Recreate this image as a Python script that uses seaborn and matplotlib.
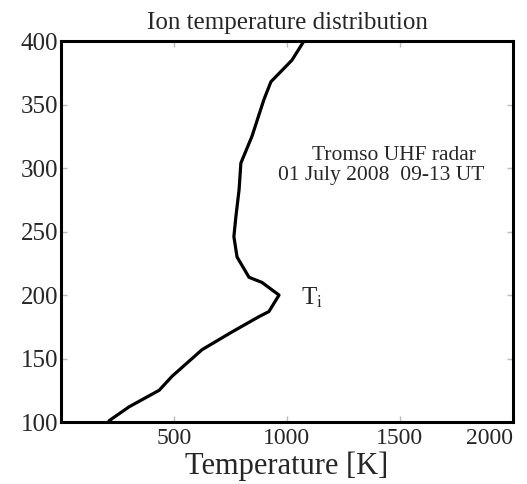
import matplotlib
matplotlib.use("Agg")
import matplotlib.pyplot as plt
import seaborn as sns
import pandas as pd

temperature = [212, 301, 434, 491, 624, 757, 876, 920, 965, 889, 832, 779, 765, 774, 788, 796, 845, 898, 929, 1022, 1075]
altitude = [101, 112, 125, 136, 157, 171, 183, 187, 200, 210, 214, 230, 246, 262, 283, 304, 325, 354, 368, 385, 400]
x_ticks = [500, 1000, 1500, 2000]
y_ticks = [100, 150, 200, 250, 300, 350, 400]

sns.set_theme(style="white")
plt.rcParams['font.family'] = ['Liberation Serif', 'DejaVu Serif']
plt.rcParams['mathtext.fontset'] = 'stix'

df = pd.DataFrame({"T": temperature, "alt": altitude})

fig = plt.figure(figsize=(5.27, 4.84), dpi=100)
ax = fig.add_axes([0.116, 0.128, 0.857, 0.787])
sns.lineplot(data=df, x="T", y="alt", sort=False, orient="y", color="black", linewidth=2.3, ax=ax)

ax.set_xlim(0, 2000)
ax.set_ylim(100, 400)
ax.set_xticks(x_ticks)
ax.set_yticks(y_ticks)
ax.tick_params(axis="both", direction="in", length=4, color="#bbbbbb", pad=3,
               top=True, right=True, bottom=True, left=True, width=1)
ax.tick_params(axis="y", labelsize=18, pad=2)
ax.tick_params(axis="x", labelsize=17, pad=4)
for lbl in ax.get_xticklabels():
    if lbl.get_text() == "2000":
        lbl.set_horizontalalignment("right")
ax.set_xlabel("Temperature [K]", fontsize=22, labelpad=2)
ax.set_ylabel("")
ax.set_title("Ion temperature distribution", fontsize=18, pad=9)
for s in ax.spines.values():
    s.set_visible(True)
    s.set_color("black")
    s.set_linewidth(2.2)

ax.text(1473, 310, "Tromso UHF radar", fontsize=15.5, ha="center", va="center")
ax.text(1416, 294, "01 July 2008  09-13 UT", fontsize=15.5, ha="center", va="center")
ax.text(1062, 198, "T$_\\mathrm{i}$", fontsize=18, ha="left", va="center")

fig.savefig("out.png", dpi=100, facecolor="white")
